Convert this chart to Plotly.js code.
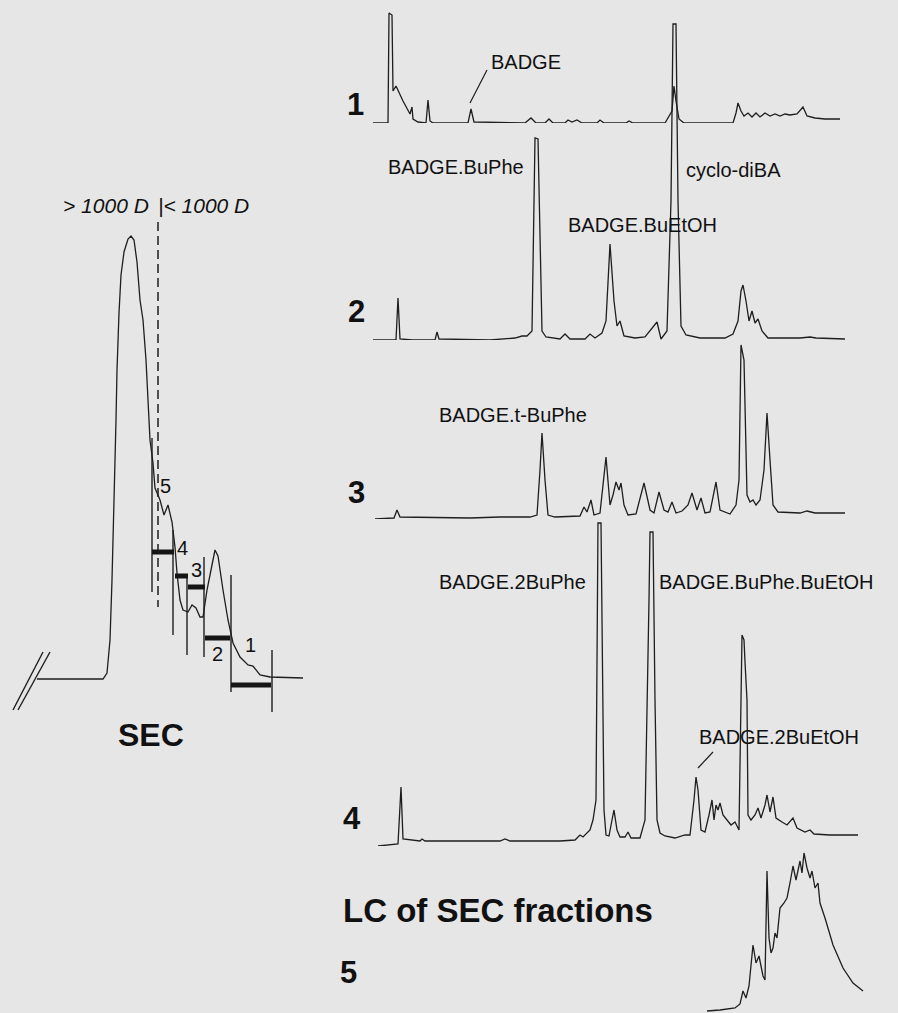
<!DOCTYPE html>
<html><head><meta charset="utf-8">
<script src="https://cdn.plot.ly/plotly-3.0.1.min.js"></script>
<style>html,body{margin:0;padding:0;background:#e6e6e6;}#chart{width:898px;height:1013px;}</style>
</head><body><div id="chart"></div>
<script>
// ---------- DATA (retention time in a.u., detector response in a.u.) ----------
// LC chromatograms of SEC fractions 1-5
const t1x = [3,18,19,22,23,26,33,40,42,43,48,56,58,60,63,98,101,104,155,161,166,175,179,183,195,198,202,207,212,227,230,234,256,259,263,295,302,304,306,309,314,363,366,368,371,374,378,382,386,390,395,400,405,410,415,420,427,433,437,445,455,470];
const t1y = [0,0,110,108,32,37,22,9,16,4,1,0,23,2,0,0,14,1,0,5,0,0,4,0,0,3,1,3,0,0,3,0,0,2,0,0,12,37,22,4,0,0,10,20,12,7,10,6,10,6,10,7,9,7,9,8,9,16,7,5,4,4];

const t2x = [3,26,28,30,42,65,67,69,120,145,152,157,162,165,168,172,176,190,195,200,215,220,225,232,236,240,244,247,250,254,265,275,287,291,297,301,303,306,308,311,316,330,355,363,368,371,373,376,379,382,385,388,392,398,430,440,446,475];
const t2y = [0,0,42,1,0,0,8,1,0,2,4,4,9,202,201,9,3,1,6,1,1,6,2,7,19,96,39,14,19,4,2,3,18,1,9,139,316,316,139,14,5,2,2,6,19,49,55,39,19,29,17,21,9,2,2,3,2,1];

const t3x = [5,24,27,30,100,130,160,167,170,172,175,178,185,210,214,217,221,224,230,236,240,243,246,249,251,254,258,266,274,280,284,289,294,298,302,306,312,318,322,327,331,335,340,346,350,360,366,369,371,374,377,380,383,386,390,394,397,400,403,408,430,437,445,475];
const t3y = [0,1,9,2,1,2,2,4,49,86,39,4,2,3,12,7,19,4,6,62,14,24,37,29,36,14,4,5,36,9,6,27,9,7,17,6,8,14,26,9,21,6,7,37,9,5,14,39,174,159,24,17,19,14,19,49,106,59,14,7,6,8,6,6];

const t4x = [8,28,31,33,50,52,55,130,135,140,190,205,210,213,220,223,226,228,231,234,236,239,242,244,247,250,255,258,261,270,275,279,280,283,285,287,290,295,305,315,320,324,326,328,331,335,339,342,344,346,348,350,353,357,361,365,369,371,372,374,375,377,378,381,385,388,391,395,397,400,403,406,412,417,423,427,435,440,444,460,488];
const t4y = [0,2,59,7,5,7,5,5,7,5,5,6,11,9,16,26,46,323,323,36,11,10,26,36,16,9,9,14,8,8,26,246,314,314,146,26,13,10,8,11,11,46,69,56,16,14,31,46,26,41,36,43,31,26,21,24,16,146,211,206,184,146,31,26,31,38,28,41,51,34,49,28,24,21,28,18,14,16,12,11,11];

const t5x = [337,350,365,370,373,376,379,383,386,389,393,395,397,399,401,403,405,407,410,414,417,420,423,426,430,432,434,437,440,442,445,448,450,455,463,473,483,493];
const t5y = [0,1,3,7,20,13,25,66,48,55,35,31,140,73,58,63,78,73,103,108,113,128,145,131,150,138,158,143,133,140,123,128,108,93,66,43,28,20];

// SEC chromatogram (elution volume a.u., response a.u.)
const secX = [-3,63,67,70,72,74,76,77,79,81,84,88,91,94,97,100,103,106,108,110,113,115,120,124,128,132,135,137,140,143,148,152,156,160,163,167,172,175,178,183,188,193,200,208,213,220,230,263];
const secY = [0,0,6,39,99,179,259,309,366,404,427,440,443,439,417,379,359,319,279,239,216,191,179,164,174,157,132,106,79,69,67,74,71,62,62,89,114,129,123,89,59,36,22,14,13,4,2,1];

// SEC fraction cuts and collected fractions
const cutX = [112,133,147,164,191,232];
const cutTop = [241,149,102,122,104,29];
const cutBottom = [87,44,24,22,-13,-33];
const fracStart = [112,135,148,165,191];
const fracEnd = [134,148,165,190,231];
const fracLevel = [127,103,92,41,-6];
const fracNames = ['5','4','3','2','1'];
const cut1000 = 118;

// Labels
const traceNames = ['1','2','3','4','5'];
const peakNames = ['BADGE','BADGE.BuPhe','cyclo-diBA','BADGE.BuEtOH','BADGE.t-BuPhe','BADGE.2BuPhe','BADGE.BuPhe.BuEtOH','BADGE.2BuEtOH'];

// ---------- LAYOUT ----------
const W = 898, H = 1013;
const PX = x => x / W, PY = y => 1 - y / H;
const INK = '#1e1e1e';
const FONT = '"Liberation Sans", Arial, Helvetica, sans-serif';

// panel geometry: baseline and top pixel rows of each LC trace (1 unit = 1 px)
const panels = [{b:123,t:8,lo:0},{b:340,t:15,lo:0},{b:519,t:335,lo:0},{b:846,t:515,lo:0},{b:1011,t:845,lo:-2}];
const series = [[t1x,t1y],[t2x,t2y],[t3x,t3y],[t4x,t4y],[t5x,t5y]];

const layout = {
  width: W, height: H,
  margin: {l:0,r:0,t:0,b:0,pad:0},
  paper_bgcolor: '#e6e6e6', plot_bgcolor: 'rgba(0,0,0,0)',
  showlegend: false,
  xaxis: {domain:[370/W,1], range:[0,528], visible:false, anchor:'y', fixedrange:true},
  xaxis2: {domain:[10/W,310/W], range:[-30,270], visible:false, anchor:'y6', fixedrange:true},
  yaxis6: {domain:[PY(719),PY(219)], range:[-40,460], visible:false, anchor:'x2', fixedrange:true},
  annotations: [], shapes: []
};
panels.forEach((p,i) => {
  const key = i === 0 ? 'yaxis' : 'yaxis' + (i+1);
  const lo = p.lo;
  layout[key] = {domain:[Math.max(0,PY(p.b - lo)), PY(p.t)], range:[lo, p.b - p.t], visible:false, anchor:'x', fixedrange:true};
});

const data = [];
series.forEach((s,i) => {
  data.push({x:s[0], y:s[1], xaxis:'x', yaxis: i===0 ? 'y' : 'y'+(i+1), mode:'lines',
    line:{color:INK, width:1.3, simplify:false}, hoverinfo:'skip'});
});
// SEC trace
data.push({x:secX, y:secY, xaxis:'x2', yaxis:'y6', mode:'lines', line:{color:INK,width:1.3,simplify:false}, hoverinfo:'skip'});
// fraction cut lines
const cx=[], cy=[];
cutX.forEach((x,i)=>{cx.push(x,x,null); cy.push(cutTop[i],cutBottom[i],null);});
data.push({x:cx, y:cy, xaxis:'x2', yaxis:'y6', mode:'lines', line:{color:INK,width:1.4}, hoverinfo:'skip'});
// fraction bars
const bx=[], by=[];
fracStart.forEach((x,i)=>{bx.push(x,fracEnd[i],null); by.push(fracLevel[i],fracLevel[i],null);});
data.push({x:bx, y:by, xaxis:'x2', yaxis:'y6', mode:'lines', line:{color:'#151515',width:5}, hoverinfo:'skip'});
// 1000 D cut (dashed)
data.push({x:[cut1000,cut1000], y:[457,72], xaxis:'x2', yaxis:'y6', mode:'lines', line:{color:INK,width:1.5,dash:'9px,5px'}, hoverinfo:'skip'});

// baseline extension after the break, and break marks
layout.shapes.push(
  {type:'line', xref:'x2', yref:'y6', x0:-27, y0:-31, x1:3, y1:27, line:{color:INK,width:1.4}},
  {type:'line', xref:'x2', yref:'y6', x0:-22, y0:-31, x1:10, y1:27, line:{color:INK,width:1.4}},
  // leader lines
  {type:'line', xref:'paper', yref:'paper', x0:PX(470), y0:PY(103), x1:PX(487), y1:PY(70), line:{color:INK,width:1.2}},
  {type:'line', xref:'paper', yref:'paper', x0:PX(698), y0:PY(768), x1:PX(713), y1:PY(752), line:{color:INK,width:1.2}}
);

function ann(text, x, y, opts) {
  layout.annotations.push(Object.assign({
    text, x:PX(x), y:PY(y), xref:'paper', yref:'paper', showarrow:false,
    xanchor:'left', yanchor:'middle', font:{family:FONT, size:20, color:'#111'}
  }, opts || {}));
}

// trace numbers
const numPos = [[366,104],[367,312],[367,492],[363,818],[359,972]];
traceNames.forEach((t,i)=> ann('<b>'+t+'</b>', numPos[i][0], numPos[i][1], {xanchor:'right', font:{family:FONT,size:31,color:'#111'}}));

// peak labels
const peakPos = [[489,62],[386,167],[684,170],[566,225],[437,415],[437,582],[657,582],[697,737]];
peakNames.forEach((t,i)=> ann(t, peakPos[i][0], peakPos[i][1]));

// fraction labels on SEC
const fracPos = [[165,486],[182,548],[196,570],[217,654],[251,645]];
fracNames.forEach((t,i)=> ann(t, fracPos[i][0], fracPos[i][1], {xanchor:'center', font:{family:FONT,size:20,color:'#111'}}));

// SEC texts
ann('<i>&gt; 1000 D</i>', 151, 205, {xanchor:'right', font:{family:FONT,size:21,color:'#111'}});
ann('<i>|&lt; 1000 D</i>', 156, 205, {xanchor:'left', font:{family:FONT,size:21,color:'#111'}});
ann('<b>SEC</b>', 151, 735, {xanchor:'center', font:{family:FONT,size:32,color:'#111'}});
ann('<b>LC of SEC fractions</b>', 341, 910, {xanchor:'left', font:{family:FONT,size:33,color:'#111'}});

Plotly.newPlot('chart', data, layout, {staticPlot:true, displayModeBar:false});
</script></body></html>
